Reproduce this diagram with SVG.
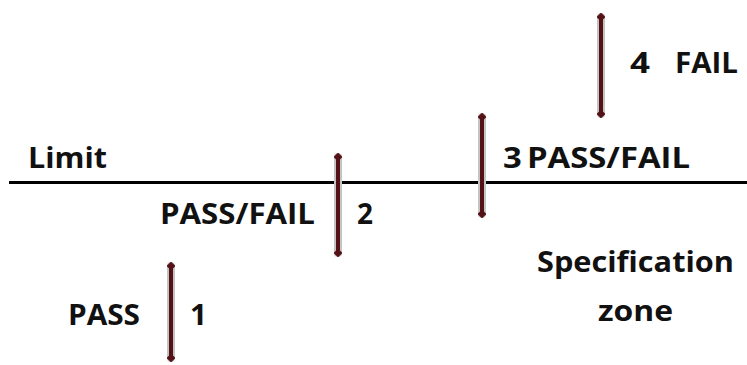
<svg xmlns="http://www.w3.org/2000/svg" width="747" height="365" viewBox="0 0 747 365">
  <defs>
    <marker id="tip" viewBox="0 0 10 10" refX="5" refY="5" markerWidth="2.2" markerHeight="2.2" orient="auto-start-reverse" markerUnits="strokeWidth">
      <path d="M0,5 L5,0 L10,5 L5,10 Z" fill="#551216"/>
    </marker>
    <style>
      .t { font-family: "Open Sans", "Liberation Sans", sans-serif; font-weight: bold; font-size: 29px; fill: #111; }
      .halo { stroke: #c4c4c4; stroke-width: 8; stroke-linecap: round; fill: none; }
      .bar { stroke: #551216; stroke-width: 4; fill: none; marker-start: url(#tip); marker-end: url(#tip); }
      .limit { stroke: #000; stroke-width: 3; }
    </style>
  </defs>
  <rect width="747" height="365" fill="#fff"/>
  <g id="limit-line">
    <line class="limit" x1="9" y1="182.5" x2="747" y2="182.5"/>
    <text class="t" x="28" y="168" textLength="79" lengthAdjust="spacingAndGlyphs">Limit</text>
  </g>
  <g id="spec-zone">
    <text class="t" x="537" y="272" textLength="197" lengthAdjust="spacingAndGlyphs">Specification</text>
    <text class="t" x="598" y="321" textLength="75" lengthAdjust="spacingAndGlyphs">zone</text>
  </g>
  <g id="case1">
    <line class="halo" x1="171" y1="266" x2="171" y2="358"/>
    <line class="bar" x1="171" y1="266" x2="171" y2="358"/>
    <text class="t" x="68" y="325" textLength="72" lengthAdjust="spacingAndGlyphs">PASS</text>
    <text class="t" x="190" y="325" textLength="17" lengthAdjust="spacingAndGlyphs">1</text>
  </g>
  <g id="case2">
    <line class="halo" x1="338" y1="157" x2="338" y2="253"/>
    <line class="bar" x1="338" y1="157" x2="338" y2="253"/>
    <text class="t" x="160" y="224" textLength="155" lengthAdjust="spacingAndGlyphs">PASS/FAIL</text>
    <text class="t" x="357" y="224" textLength="16" lengthAdjust="spacingAndGlyphs">2</text>
  </g>
  <g id="case3">
    <line class="halo" x1="482" y1="117" x2="482" y2="214"/>
    <line class="bar" x1="482" y1="117" x2="482" y2="214"/>
    <text class="t" x="503" y="168" textLength="187" lengthAdjust="spacingAndGlyphs" style="word-spacing:-3px">3 PASS/FAIL</text>
  </g>
  <g id="case4">
    <line class="halo" x1="601" y1="17" x2="601" y2="114"/>
    <line class="bar" x1="601" y1="17" x2="601" y2="114"/>
    <text class="t" x="630" y="73" textLength="20" lengthAdjust="spacingAndGlyphs">4</text>
    <text class="t" x="675" y="73" textLength="63" lengthAdjust="spacingAndGlyphs">FAIL</text>
  </g>
</svg>
